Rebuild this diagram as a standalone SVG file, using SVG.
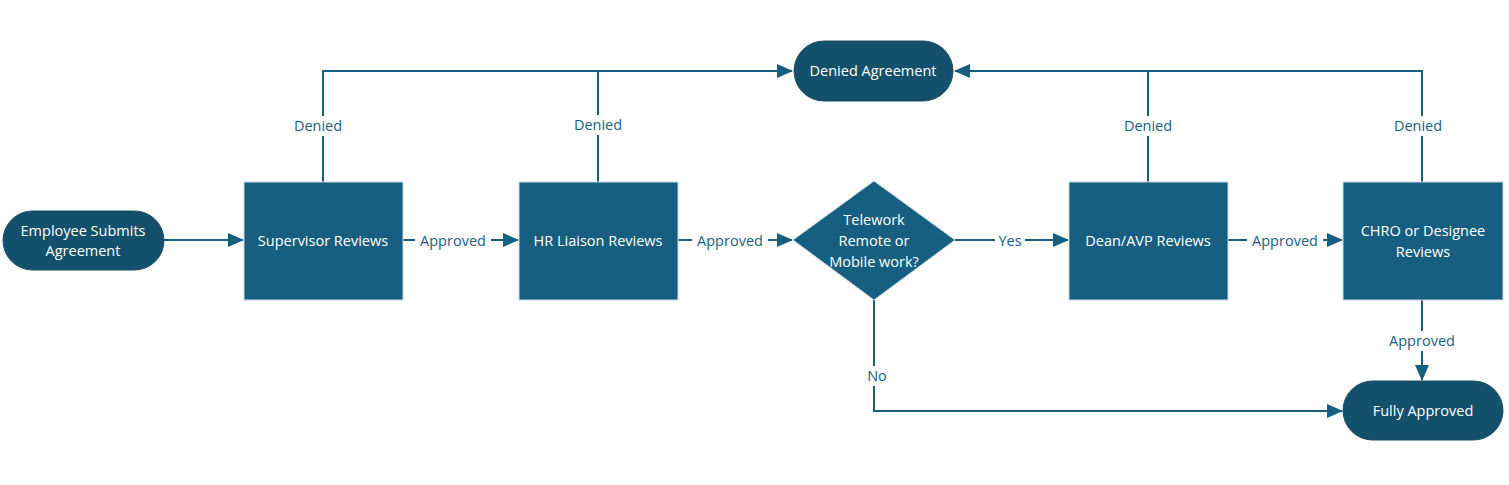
<svg xmlns="http://www.w3.org/2000/svg" width="1509" height="485" viewBox="0 0 1509 485">
<style>
.box{fill:#175F80;stroke:#C9D6DF;stroke-width:1}
.term{fill:#13506B;stroke:#1E4F66;stroke-width:1}
.t{font-family:"Open Sans","Liberation Sans",sans-serif;font-size:14.5px;fill:#fff;text-anchor:middle}
.l{font-family:"Open Sans","Liberation Sans",sans-serif;font-size:14.5px;fill:#175F80;text-anchor:middle}
.c{fill:none;stroke:#175F80;stroke-width:2}
.lb{fill:#fff}
</style>
<defs><marker id="a" markerWidth="10" markerHeight="10" refX="9" refY="5" orient="auto" markerUnits="userSpaceOnUse" viewBox="0 0 10 10"><path d="M0,0 L10,5 L0,10 z" fill="#175F80"/></marker>
<marker id="b" markerWidth="16" markerHeight="16" refX="15" refY="8" orient="auto" markerUnits="userSpaceOnUse" viewBox="0 0 16 16"><path d="M0,1 L16,8 L0,15 z" fill="#175F80"/></marker></defs>
<rect width="1509" height="485" fill="#fff"/>
<g id="connectors">
<path class="c" d="M164,240 H243" marker-end="url(#b)"/>
<path class="c" d="M403,240 H518" marker-end="url(#b)"/>
<path class="c" d="M678,240 H792" marker-end="url(#b)"/>
<path class="c" d="M955,240 H1068" marker-end="url(#b)"/>
<path class="c" d="M1228,240 H1342" marker-end="url(#b)"/>
<path class="c" d="M323,182 V71 H792" marker-end="url(#b)"/>
<path class="c" d="M598,182 V71"/>
<path class="c" d="M1422,182 V71 H955" marker-end="url(#b)"/>
<path class="c" d="M1148,182 V71"/>
<path class="c" d="M1422,300 V380" marker-end="url(#b)"/>
<path class="c" d="M874,300 V411 H1342" marker-end="url(#b)"/>
<rect class="lb" x="415" y="231" width="76" height="20"/><text class="l" x="453" y="246">Approved</text>
<rect class="lb" x="692" y="231" width="76" height="20"/><text class="l" x="730" y="246">Approved</text>
<rect class="lb" x="995" y="231" width="30" height="20"/><text class="l" x="1010" y="246">Yes</text>
<rect class="lb" x="1247" y="231" width="76" height="20"/><text class="l" x="1285" y="246">Approved</text>
<rect class="lb" x="1384" y="331" width="76" height="20"/><text class="l" x="1422" y="346">Approved</text>
<rect class="lb" x="864" y="366" width="26" height="20"/><text class="l" x="877" y="381">No</text>
<rect class="lb" x="290" y="116" width="66" height="20"/><text class="l" x="318" y="131">Denied</text>
<rect class="lb" x="566" y="115" width="66" height="20"/><text class="l" x="598" y="130">Denied</text>
<rect class="lb" x="1116" y="116" width="66" height="20"/><text class="l" x="1148" y="131">Denied</text>
<rect class="lb" x="1390" y="116" width="66" height="20"/><text class="l" x="1418" y="131">Denied</text>
</g>
<g id="start"><rect class="term" x="3" y="211" width="161" height="59" rx="29.5"/><text class="t" x="83" y="236">Employee Submits</text><text class="t" x="83" y="256">Agreement</text></g>
<g id="supervisor"><rect class="box" x="244" y="182" width="159" height="118"/><text class="t" x="323" y="246">Supervisor Reviews</text></g>
<g id="hr"><rect class="box" x="519" y="182" width="159" height="118"/><text class="t" x="598" y="246">HR Liaison Reviews</text></g>
<g id="decision"><path class="box" d="M874,181 L955,240 L874,300 L793,240 Z" stroke="#175F80"/><text class="t" x="874" y="225">Telework</text><text class="t" x="874" y="246">Remote or</text><text class="t" x="874" y="267">Mobile work?</text></g>
<g id="dean"><rect class="box" x="1069" y="182" width="159" height="118"/><text class="t" x="1148" y="246">Dean/AVP Reviews</text></g>
<g id="chro"><rect class="box" x="1343" y="182" width="160" height="118"/><text class="t" x="1423" y="236">CHRO or Designee</text><text class="t" x="1423" y="257">Reviews</text></g>
<g id="denied"><rect class="term" x="794" y="41" width="159" height="60" rx="30"/><text class="t" x="873" y="76">Denied Agreement</text></g>
<g id="approved"><rect class="term" x="1343" y="381" width="160" height="59" rx="29.5"/><text class="t" x="1423" y="416">Fully Approved</text></g>
</svg>
